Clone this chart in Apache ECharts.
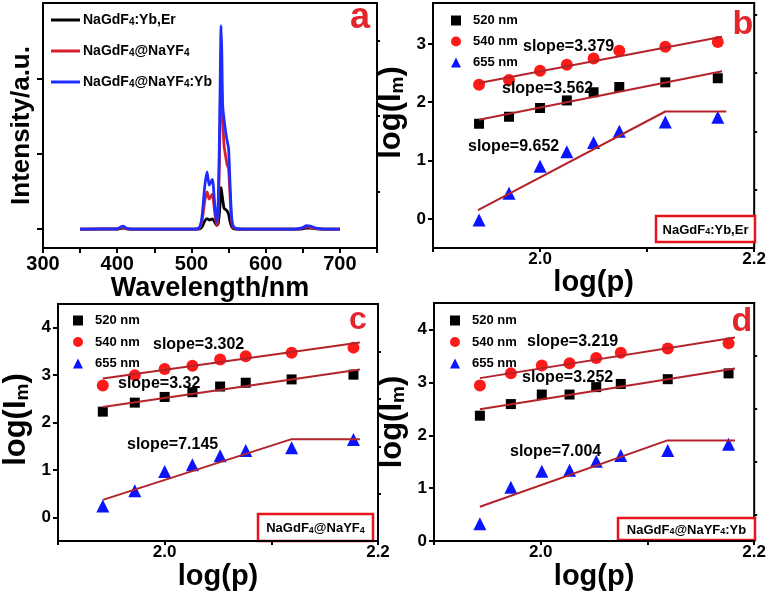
<!DOCTYPE html>
<html>
<head>
<meta charset="utf-8">
<script src="https://cdn.jsdelivr.net/npm/echarts@6/dist/echarts.min.js"></script>
<style>html,body{margin:0;padding:0;background:#fff;}#main{width:769px;height:592px;}</style>
</head>
<body>
<div id="main"></div>
<script>
// ---- Panel a: emission spectra ----
const wavelength = [350, 380, 400, 405, 408, 412, 420, 500, 510, 514, 518, 521, 524, 528, 531, 534, 536, 538, 540, 541, 542, 544, 546, 548, 550, 552, 554, 556, 560, 570, 640, 650, 655, 660, 668, 680, 700];
const specCore = [0, 0, 0, 0.02, 0.03, 0.01, 0, 0, 0, 0.05, 0.22, 0.28, 0.24, 0.27, 0.2, 0.1, 0.15, 0.5, 1.1, 0.95, 0.8, 0.55, 0.52, 0.48, 0.4, 0.2, 0.08, 0.02, 0, 0, 0, 0.01, 0.03, 0.03, 0.01, 0, 0];
const specCoreShell = [0, 0.01, 0.01, 0.04, 0.05, 0.02, 0, 0, 0.02, 0.2, 0.75, 0.99, 0.8, 0.93, 0.5, 0.1, 0.4, 2.2, 4.4, 3.6, 3.0, 2.2, 1.95, 1.72, 1.6, 0.9, 0.25, 0.06, 0.01, 0, 0, 0.03, 0.06, 0.05, 0.02, 0, 0];
const specCoreShellYb = [0, 0.01, 0.01, 0.06, 0.08, 0.03, 0, 0, 0.03, 0.3, 1.15, 1.52, 1.17, 1.32, 0.75, 0.19, 0.6, 2.8, 5.4, 4.6, 3.3, 2.9, 2.6, 2.35, 2.15, 1.2, 0.35, 0.1, 0.02, 0, 0, 0.04, 0.09, 0.08, 0.03, 0, 0];
const specNames = ['NaGdF4:Yb,Er', 'NaGdF4@NaYF4', 'NaGdF4@NaYF4:Yb'];

// ---- Panels b, c, d: log(I) vs log(p) ----
const wlNames = ['520 nm', '540 nm', '655 nm'];
const logP_b = [1.943, 1.971, 2.0, 2.025, 2.050, 2.074, 2.117, 2.166];
const b520 = [1.63, 1.75, 1.90, 2.03, 2.17, 2.26, 2.34, 2.41];
const b540 = [2.30, 2.38, 2.54, 2.64, 2.75, 2.88, 2.95, 3.03];
const b655 = [-0.02, 0.44, 0.90, 1.15, 1.31, 1.50, 1.66, 1.74];
const fitX_b = [1.943, 2.170];
const fit520_b = [1.70, 2.53];
const fit540_b = [2.33, 3.12];
const fitX655_b = [1.942, 2.117, 2.174];
const fit655_b = [0.15, 1.84, 1.84];

const logP_c = [1.942, 1.972, 2.000, 2.026, 2.052, 2.076, 2.119, 2.177];
const c520 = [2.23, 2.42, 2.54, 2.64, 2.76, 2.84, 2.91, 3.01];
const c540 = [2.78, 3.00, 3.13, 3.20, 3.33, 3.40, 3.47, 3.58];
const c655 = [0.24, 0.56, 0.97, 1.11, 1.30, 1.41, 1.47, 1.64];
const fitX_c = [1.942, 2.183];
const fit520_c = [2.33, 3.12];
const fit540_c = [2.93, 3.69];
const fitX655_c = [1.942, 2.119, 2.183];
const fit655_c = [0.37, 1.65, 1.65];

const logP_d = [1.943, 1.972, 2.001, 2.027, 2.052, 2.075, 2.119, 2.176];
const d520 = [2.37, 2.59, 2.77, 2.77, 2.91, 2.97, 3.06, 3.17];
const d540 = [2.94, 3.17, 3.32, 3.36, 3.46, 3.56, 3.64, 3.74];
const d655 = [0.33, 1.02, 1.32, 1.34, 1.51, 1.62, 1.71, 1.83];
const fitX_d = [1.943, 2.182];
const fit520_d = [2.49, 3.26];
const fit540_d = [3.08, 3.85];
const fitX655_d = [1.943, 2.118, 2.182];
const fit655_d = [0.65, 1.90, 1.90];

const slopeB = ['slope=3.379', 'slope=3.562', 'slope=9.652'];
const slopeC = ['slope=3.302', 'slope=3.32', 'slope=7.145'];
const slopeD = ['slope=3.219', 'slope=3.252', 'slope=7.004'];
const sampleLabels = ['NaGdF4:Yb,Er', 'NaGdF4@NaYF4', 'NaGdF4@NaYF4:Yb'];

const FONT = "'Liberation Sans', Arial, sans-serif";
const FIT_COLOR = '#b3232a';
const RED = '#ff1a1a';
const BLUE = '#0a14ff';
const LETTER = '#e3262b';

function zip(xs, ys) { return xs.map((x, i) => [x, ys[i]]); }
function sub(s) { return s.replace(/F4/g, 'F{s|4}'); }
const richSub13 = { s: { fontSize: 10, fontWeight: 'bold', fontFamily: FONT, verticalAlign: 'bottom', lineHeight: 12, color: '#000' } };

const grids = [
  { left: 43, top: 3, width: 334, height: 245 },
  { left: 433, top: 3, width: 329, height: 245 },
  { left: 52, top: 304, width: 326, height: 244 },
  { left: 434, top: 303, width: 328, height: 244 }
];

function mkLine() { return { show: true, onZero: false, lineStyle: { color: '#000', width: 2 } }; }

const xAxes = [
  {
    gridIndex: 0, type: 'value', min: 300, max: 750, interval: 50,
    axisLine: mkLine(), axisTick: { length: 5, lineStyle: { width: 2, color: '#000' } },
    axisLabel: { margin: 6, color: '#000', fontSize: 20, fontWeight: 'bold', fontFamily: FONT,
      formatter: v => (v % 100 === 0 && v <= 700) ? String(v) : '' },
    splitLine: { show: false },
    name: 'Wavelength/nm', nameLocation: 'middle', nameGap: 22,
    nameTextStyle: { fontSize: 27, fontWeight: 'bold', fontFamily: FONT, color: '#000' }
  }
];
for (let g = 1; g <= 3; g++) {
  xAxes.push({
    gridIndex: g, type: 'value', min: 1.9, max: 2.2,
    axisLine: mkLine(),
    axisTick: { length: 4, customValues: [1.9, 2.0, 2.1, 2.2], lineStyle: { width: 2, color: '#000' } },
    axisLabel: { margin: 3, customValues: [2.0, 2.2], color: '#000', fontSize: 17, fontWeight: 'bold', fontFamily: FONT,
      formatter: v => v.toFixed(1) },
    splitLine: { show: false },
    name: 'log(p)', nameLocation: 'middle', nameGap: 9,
    nameTextStyle: { fontSize: 29, fontWeight: 'bold', fontFamily: FONT, color: '#000' }
  });
}

const yRanges = [[-0.5, 6], [-0.5, 3.7], [-0.5, 4.5], [0, 4.5]];
const yMajor = [[0, 2, 4], [0, 1, 2, 3], [0, 1, 2, 3, 4], [0, 1, 2, 3, 4]];
const yMinor = [[1, 3, 5], [0.5, 1.5, 2.5, 3.5], [0.5, 1.5, 2.5, 3.5], [0.5, 1.5, 2.5, 3.5]];
const yNamePad = [[0, 0, 0, 0], [0, 0, 0, 26], [0, 0, 0, 6], [0, 0, 0, 0]];
const yAxes = [];
for (let g = 0; g < 4; g++) {
  const isA = g === 0;
  yAxes.push({
    gridIndex: g, type: 'value', min: yRanges[g][0], max: yRanges[g][1],
    axisLine: mkLine(),
    axisTick: { length: isA ? 6 : 5, customValues: yMajor[g], lineStyle: { width: 2, color: '#000' } },
    axisLabel: isA ? { show: false } : { margin: 7, customValues: yMajor[g], color: '#000', fontSize: 17, fontWeight: 'bold', fontFamily: FONT },
    splitLine: { show: false },
    name: isA ? 'Intensity/a.u.' : 'log(I{m|m})',
    nameLocation: 'middle', nameGap: isA ? 8 : 26,
    nameTextStyle: { fontSize: isA ? 26 : 31, fontWeight: 'bold', fontFamily: FONT, color: '#000', padding: yNamePad[g],
      rich: { m: { fontSize: 19, fontWeight: 'bold', fontFamily: FONT, verticalAlign: 'bottom', lineHeight: 26, color: '#000' } } }
  });
}
for (let g = 0; g < 4; g++) {
  yAxes.push({
    gridIndex: g, type: 'value', min: yRanges[g][0], max: yRanges[g][1],
    axisLine: { show: false, onZero: false },
    axisTick: { length: 3, customValues: yMinor[g], lineStyle: { width: 2, color: '#000' } },
    axisLabel: { show: false },
    splitLine: { show: false }
  });
}

const series = [];
const specData = [specCore, specCoreShell, specCoreShellYb];
const specColors = ['#000000', '#d8202c', '#1f2cff'];
for (let i = 0; i < 3; i++) {
  series.push({
    name: specNames[i], type: 'line', xAxisIndex: 0, yAxisIndex: 0,
    data: zip(wavelength, specData[i]), symbol: 'none', smooth: 0.25,
    lineStyle: { color: specColors[i], width: 2.8 }, itemStyle: { color: specColors[i] }, z: 2 + i
  });
}

const panels = [
  { g: 1, x: logP_b, d: [b520, b540, b655], fx: fitX_b, f520: fit520_b, f540: fit540_b, fx655: fitX655_b, f655: fit655_b },
  { g: 2, x: logP_c, d: [c520, c540, c655], fx: fitX_c, f520: fit520_c, f540: fit540_c, fx655: fitX655_c, f655: fit655_c },
  { g: 3, x: logP_d, d: [d520, d540, d655], fx: fitX_d, f520: fit520_d, f540: fit540_d, fx655: fitX655_d, f655: fit655_d }
];
const symbols = ['rect', 'circle', 'triangle'];
const symSizes = [10, 12, 13];
const symColors = ['#000000', RED, BLUE];
panels.forEach(p => {
  for (let i = 0; i < 3; i++) {
    series.push({
      name: wlNames[i], type: 'scatter', xAxisIndex: p.g, yAxisIndex: p.g,
      data: zip(p.x, p.d[i]), symbol: symbols[i], symbolSize: symSizes[i],
      itemStyle: { color: symColors[i], opacity: 1 }, z: 2
    });
  }
  const fits = [zip(p.fx, p.f520), zip(p.fx, p.f540), zip(p.fx655, p.f655)];
  fits.forEach((fd, k) => {
    series.push({
      name: 'fit' + k, type: 'line', xAxisIndex: p.g, yAxisIndex: p.g,
      data: fd, symbol: 'none', lineStyle: { color: FIT_COLOR, width: 2 }, z: 4, silent: true
    });
  });
});

const legendText = { fontSize: 13, fontWeight: 'bold', fontFamily: FONT, color: '#000', padding: [0, 0, 0, 7] };
const legends = [
  { left: 46, top: 8, orient: 'vertical', icon: 'rect', itemWidth: 29, itemHeight: 3, itemGap: 17, data: specNames,
    formatter: n => sub(n), selectedMode: false,
    textStyle: { fontSize: 14, fontWeight: 'bold', fontFamily: FONT, color: '#000', padding: [0, 0, 0, -2], rich: richSub13 } },
  { left: 446, top: 9, orient: 'vertical', itemWidth: 10, itemHeight: 10, itemGap: 8, data: wlNames, selectedMode: false, textStyle: legendText },
  { left: 68, top: 309, orient: 'vertical', itemWidth: 10, itemHeight: 10, itemGap: 8.5, data: wlNames, selectedMode: false, textStyle: legendText },
  { left: 445, top: 309, orient: 'vertical', itemWidth: 10, itemHeight: 10, itemGap: 8.5, data: wlNames, selectedMode: false, textStyle: legendText }
];

function txt(text, x, y, size, color, align) {
  return { type: 'text', x: x, y: y, z: 50,
    style: { text: text, fill: color || '#000', font: 'bold ' + size + 'px ' + FONT, align: align || 'left', verticalAlign: 'middle' } };
}
function labelBox(text, x, y, w, h) {
  return { type: 'group', x: x, y: y, z: 50, children: [
    { type: 'rect', shape: { x: 0, y: 0, width: w, height: h }, style: { fill: '#fff', stroke: '#e8141b', lineWidth: 2.5 } },
    { type: 'text', x: w / 2, y: h / 2 + 1, style: { text: sub(text), align: 'center', verticalAlign: 'middle',
        font: 'bold 13px ' + FONT, fill: '#000', rich: { s: { font: 'bold 9px ' + FONT, verticalAlign: 'bottom', lineHeight: 11 } } } }
  ] };
}
const graphic = [
  txt('a', 360, 18, 36, LETTER, 'center'),
  txt('b', 743, 25, 34, LETTER, 'center'),
  txt('c', 358, 320, 32, LETTER, 'center'),
  txt('d', 742, 322, 34, LETTER, 'center'),
  txt(slopeB[0], 523, 47, 16), txt(slopeB[1], 502, 89, 16), txt(slopeB[2], 468, 147, 16),
  txt(slopeC[0], 153, 345, 16), txt(slopeC[1], 118, 384, 16), txt(slopeC[2], 127, 445, 16),
  txt(slopeD[0], 527, 342, 16), txt(slopeD[1], 522, 378, 16), txt(slopeD[2], 510, 452, 16),
  labelBox(sampleLabels[0], 656, 216, 99, 26),
  labelBox(sampleLabels[1], 258, 514, 115, 27),
  labelBox(sampleLabels[2], 618, 518, 137, 22)
];

const chart = echarts.init(document.getElementById('main'), null, { renderer: 'canvas' });
chart.setOption({
  backgroundColor: '#fff',
  animation: false,
  grid: grids.map(g => Object.assign({ show: true, borderColor: '#000', borderWidth: 2, containLabel: false }, g)),
  xAxis: xAxes,
  yAxis: yAxes,
  legend: legends,
  series: series,
  graphic: graphic
});
</script>
</body>
</html>
